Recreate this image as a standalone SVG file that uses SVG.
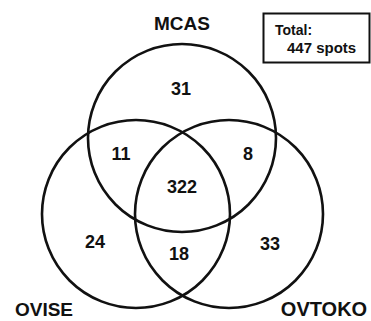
<svg xmlns="http://www.w3.org/2000/svg" width="371" height="321" viewBox="0 0 371 321">
  <style>
    .set { fill: none; stroke: #111; stroke-width: 2.6; }
    .lbl { font-family: "Liberation Sans", Arial, sans-serif; font-weight: bold; fill: #111; text-anchor: middle; }
    .num { font-family: "Liberation Sans", Arial, sans-serif; font-weight: bold; fill: #111; text-anchor: middle; font-size: 18px; }
  </style>
  <rect width="371" height="321" fill="#fff"/>

  <g id="connectors"></g>

  <g id="mcas">
    <circle class="set" cx="182" cy="138" r="94"/>
    <text class="lbl" x="182" y="30" font-size="19">MCAS</text>
  </g>
  <g id="ovise">
    <circle class="set" cx="136" cy="214" r="94"/>
    <text class="lbl" x="44" y="316" font-size="19">OVISE</text>
  </g>
  <g id="ovtoko">
    <circle class="set" cx="229" cy="214" r="94"/>
    <text class="lbl" x="324" y="316" font-size="20">OVTOKO</text>
  </g>

  <g id="counts">
    <text class="num" x="181" y="95">31</text>
    <text class="num" x="121" y="160">11</text>
    <text class="num" x="248" y="160">8</text>
    <text class="num" x="182" y="193" font-size="24">322</text>
    <text class="num" x="95" y="248">24</text>
    <text class="num" x="179" y="260">18</text>
    <text class="num" x="270" y="250">33</text>
  </g>

  <g id="total">
    <rect x="263.5" y="13.5" width="106" height="49" fill="#fff" stroke="#111" stroke-width="2"/>
    <text x="275" y="35" font-family="Liberation Sans, Arial, sans-serif" font-weight="bold" font-size="14" fill="#111">Total:</text>
    <text x="287" y="53" font-family="Liberation Sans, Arial, sans-serif" font-weight="bold" font-size="15" fill="#111">447 spots</text>
  </g>
</svg>
